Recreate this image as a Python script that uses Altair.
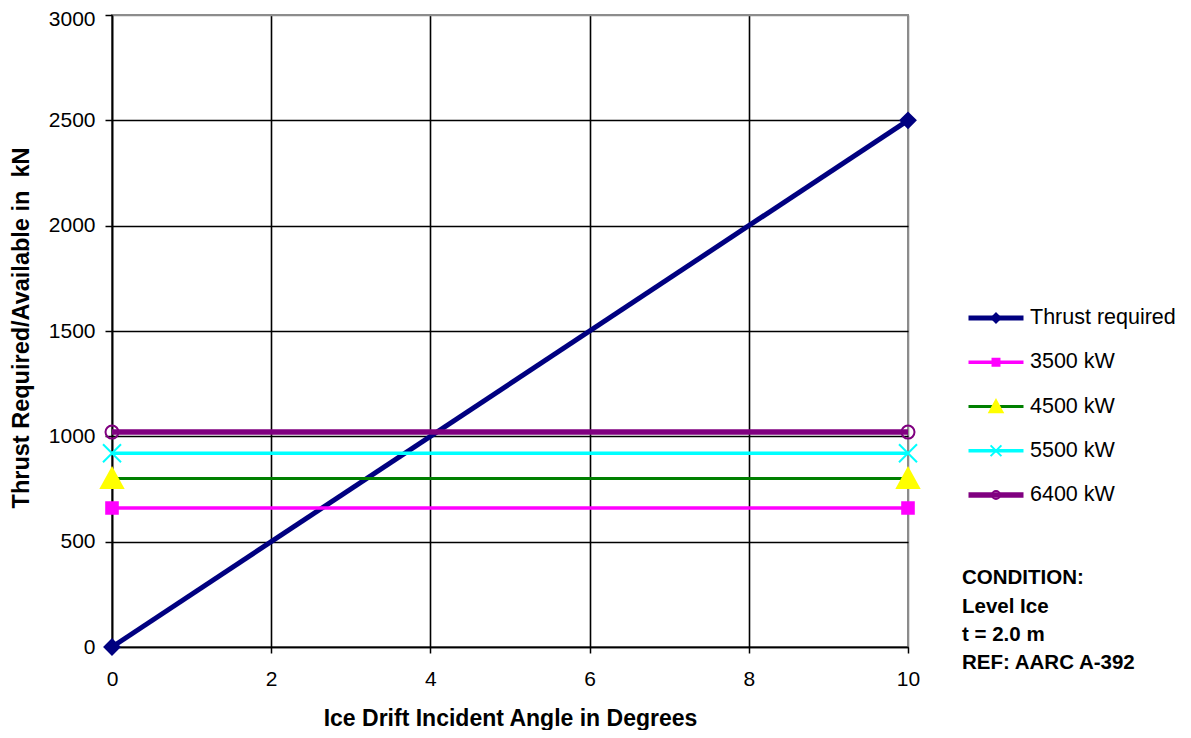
import altair as alt
import pandas as pd

FONT = "Liberation Sans"

# ---- data ----
angle = [0, 10]
thrust_required = [0, 2500]
kw_3500 = [660, 660]
kw_4500 = [800, 800]
kw_5500 = [920, 920]
kw_6400 = [1020, 1020]

series_names = ["Thrust required", "3500 kW", "4500 kW", "5500 kW", "6400 kW"]
series_values = [thrust_required, kw_3500, kw_4500, kw_5500, kw_6400]

x_ticks = [0, 2, 4, 6, 8, 10]
y_ticks = [0, 500, 1000, 1500, 2000, 2500, 3000]
condition_lines = ["CONDITION:", "Level Ice", "t = 2.0 m", "REF: AARC A-392"]

# ---- styles ----
line_colors = ["#000080", "#FF00FF", "#008000", "#00FFFF", "#800080"]
line_widths = [5, 3.5, 3, 3.5, 5.5]
marker_paths = [
    "M0,-0.75L0.75,0L0,0.75L-0.75,0Z",
    "M-0.58,-0.58H0.58V0.58H-0.58Z",
    "M0,-1.05L1.1,0.95L-1.1,0.95Z",
    "M-0.9,-0.9L0.9,0.9M-0.9,0.9L0.9,-0.9",
    "M-0.65,0A0.65,0.65,0,1,1,0.65,0A0.65,0.65,0,1,1,-0.65,0Z",
]
marker_fills = ["#000080", "#FF00FF", "#FFFF00", "#00FFFF", "transparent"]
marker_strokes = ["#000080", "#FF00FF", "#FFFF00", "#00FFFF", "#800080"]

rows = []
for i, (name, vals) in enumerate(zip(series_names, series_values)):
    for a, v in zip(angle, vals):
        rows.append({"angle": a, "thrust": v, "series": name, "order": i})
df = pd.DataFrame(rows)

x_enc = alt.X(
    "angle:Q",
    scale=alt.Scale(domain=[0, 10], nice=False),
    axis=alt.Axis(
        values=x_ticks,
        title="Ice Drift Incident Angle in Degrees",
        titleFont=FONT, titleFontSize=23, titleFontWeight="bold", titleColor="black",
        titleY=78, titleBaseline="alphabetic",
        labelFont=FONT, labelFontSize=21, labelColor="black", labelPadding=15,
        labelFlush=False,
        tickSize=6, tickColor="black", tickWidth=1.5,
        domainColor="black", domainWidth=1.6,
        grid=True, gridWidth=1.6,
        gridColor={"condition": {"test": "datum.value == 10", "value": "#8c8c8c"}, "value": "black"},
    ),
)
y_enc = alt.Y(
    "thrust:Q",
    scale=alt.Scale(domain=[0, 3000], nice=False),
    axis=alt.Axis(
        values=y_ticks,
        format="d",
        title="Thrust Required/Available in\u00a0 kN",
        titleFont=FONT, titleFontSize=23.5, titleFontWeight="bold", titleColor="black",
        titleAngle=270, titleX=-84, titleY=312.5, titleAlign="center", titleBaseline="alphabetic",
        labelFont=FONT, labelFontSize=21, labelColor="black", labelPadding=10,
        labelOffset={"condition": {"test": "datum.value == 3000", "value": 4}, "value": 0},
        tickSize=7, tickColor="black", tickWidth=1.5,
        domainColor="black", domainWidth=1.6,
        grid=True, gridWidth=1.6,
        gridColor={"condition": {"test": "datum.value == 3000", "value": "#8c8c8c"}, "value": "black"},
    ),
)

leg_common = dict(
    title=None, orient="none", legendX=873.25, legendY=292.25,
    labelFont=FONT, labelFontSize=21.5, labelColor="black", labelOffset=23.25,
    rowPadding=21.25, padding=0, labelLimit=300,
)
leg_lines = alt.Legend(symbolType="M-5.5,0H5.5", symbolSize=100, **leg_common)
leg_markers = alt.Legend(symbolSize=144, symbolStrokeWidth=2, labelOpacity=0, **leg_common)

layers = []
for name in series_names:
    layers.append(
        alt.Chart(df)
        .transform_filter(alt.datum.series == name)
        .mark_line(strokeCap="butt")
        .encode(
            x=x_enc,
            y=y_enc,
            color=alt.Color("series:N", scale=alt.Scale(domain=series_names, range=line_colors), legend=leg_lines),
            strokeWidth=alt.StrokeWidth(
                "series:N",
                scale=alt.Scale(type="ordinal", domain=series_names, range=line_widths),
                legend=leg_lines,
            ),
        )
    )

sort_def = alt.EncodingSortField(field="order", op="min")
markers = (
    alt.Chart(df)
    .mark_point(filled=True, size=400, strokeWidth=2, opacity=1)
    .encode(
        x=x_enc,
        y=y_enc,
        shape=alt.Shape("series:N", sort=sort_def, scale=alt.Scale(range=marker_paths), legend=leg_markers),
        fill=alt.Fill("series:N", sort=sort_def, scale=alt.Scale(range=marker_fills), legend=leg_markers),
        stroke=alt.Stroke("series:N", sort=sort_def, scale=alt.Scale(range=marker_strokes), legend=leg_markers),
    )
)
layers.append(markers)

note = (
    alt.Chart(pd.DataFrame({"k": [0]}))
    .mark_text(
        text=condition_lines, align="left", baseline="alphabetic", lineHeight=28.3,
        font=FONT, fontSize=20.5, fontWeight="bold", color="black",
    )
    .encode(x=alt.value(850), y=alt.value(569.3))
)
layers.append(note)

chart = (
    alt.layer(*layers)
    .properties(
        width=796, height=632,
        autosize=alt.AutoSizeParams(type="none"),
        padding={"left": 104, "top": 7, "right": 275, "bottom": 83},
        background="white",
    )
    .configure_view(stroke="#8c8c8c", strokeWidth=2)
)

chart.save("out.html", embed_options={"renderer": "svg", "actions": False})
